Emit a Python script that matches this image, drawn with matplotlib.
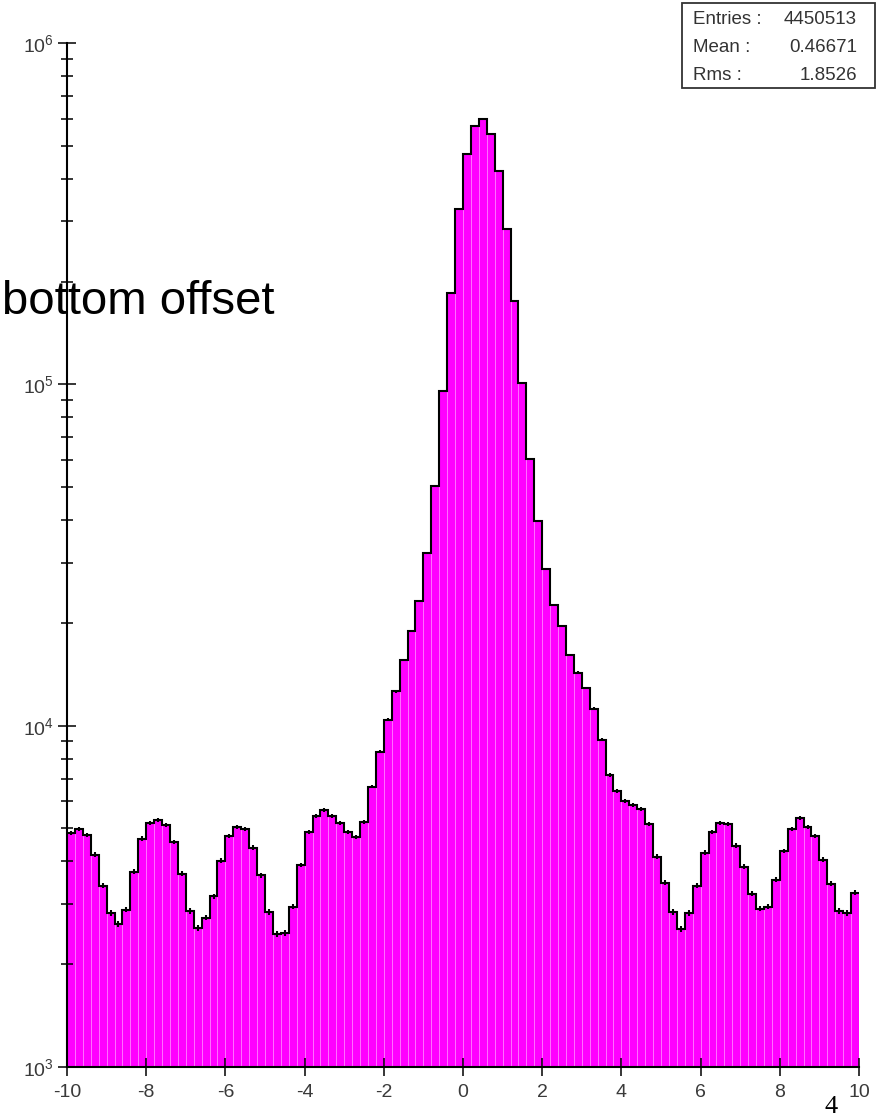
import numpy as np
import matplotlib
matplotlib.use('Agg')
import matplotlib.pyplot as plt
from matplotlib.patches import Rectangle
from matplotlib.ticker import FixedLocator, FixedFormatter, NullLocator

plt.rcParams['font.family'] = ['Liberation Sans', 'DejaVu Sans']
plt.rcParams['mathtext.fontset'] = 'custom'
plt.rcParams['mathtext.rm'] = 'Liberation Sans'
plt.rcParams['mathtext.it'] = 'Liberation Sans:italic'
plt.rcParams['axes.unicode_minus'] = False

# histogram: 100 bins between -10 and 10
x_min, x_max, n_bins = -10, 10, 100
counts = np.array([
    4860, 4990, 4790, 4190, 3400, 2830, 2630, 2890, 3730, 4670,
    5200, 5300, 5130, 4570, 3680, 2870, 2560, 2740, 3160, 4020,
    4760, 5060, 4990, 4390, 3640, 2850, 2460, 2470, 2950, 3910,
    4890, 5450, 5670, 5450, 5200, 4890, 4730, 5230, 6630, 8390,
    10400, 12600, 15600, 18900, 23200, 32100, 50500, 95800, 185700, 327000,
    474000, 573000, 597000, 543000, 423000, 286000, 175000, 101000, 60600, 39900,
    28800, 22500, 19600, 16100, 14300, 12900, 11200, 9100, 7180, 6450,
    6030, 5870, 5710, 5160, 4130, 3470, 2850, 2540, 2830, 3400,
    4250, 4890, 5200, 5160, 4450, 3860, 3220, 2910, 2950, 3540,
    4300, 4990, 5380, 5060, 4760, 4050, 3440, 2870, 2830, 3240,
])
stat_names = ['Entries :', 'Mean :', 'Rms :']
stat_values = ['4450513', '0.46671', '1.8526']
x_ticks = list(range(-10, 11, 2))
y_ticks = [1e3, 1e4, 1e5, 1e6]
y_ticklabels = [r'$\mathregular{10^{3}}$', r'$\mathregular{10^{4}}$',
                r'$\mathregular{10^{5}}$', r'$\mathregular{10^{6}}$']

edges = np.linspace(x_min, x_max, n_bins + 1)
centers = 0.5 * (edges[:-1] + edges[1:])
width = edges[1] - edges[0]

W, H = 885, 1119
fig = plt.figure(figsize=(W / 100, H / 100), dpi=100)
ax = fig.add_axes([67 / W, 52 / H, (859 - 67) / W, (1067 - 43) / H])
ax.set_yscale('log')

ax.bar(edges[:-1], counts, width=width, align='edge', color='#ff00ff',
       edgecolor='#ff7aff', linewidth=0.6, zorder=1)
ax.stairs(counts, edges, color='black', linewidth=1.5, baseline=None, zorder=3)
ax.errorbar(centers, counts, yerr=np.sqrt(counts), fmt='none', ecolor='black',
            elinewidth=1.5, capsize=0, zorder=3)

ax.set_xlim(x_min, x_max)
ax.set_ylim(1e3, 1e6)

for side in ['top', 'right']:
    ax.spines[side].set_visible(False)
for side in ['left', 'bottom']:
    ax.spines[side].set_linewidth(1.5)
    ax.spines[side].set_zorder(4)

ax.xaxis.set_major_locator(FixedLocator(x_ticks))
ax.xaxis.set_minor_locator(NullLocator())
ax.yaxis.set_major_locator(FixedLocator(y_ticks))
ax.yaxis.set_major_formatter(FixedFormatter(y_ticklabels))
ax.yaxis.set_minor_locator(FixedLocator(
    [m * 10 ** e for e in range(3, 6) for m in range(2, 10)]))
ax.yaxis.set_minor_formatter(FixedFormatter([]))

ax.tick_params(axis='both', which='major', direction='inout', length=13,
               width=1.1, color='black', labelsize=14, labelcolor='#3a3a3a')
ax.tick_params(axis='x', which='major', pad=6)
ax.tick_params(axis='y', which='major', pad=3)
ax.tick_params(axis='y', which='minor', direction='inout', length=8,
               width=1.1, color='black')

# statistics box in the upper right corner
fig.add_artist(Rectangle((682 / W, 1 - 88 / H), (875 - 682) / W, 85 / H,
                         transform=fig.transFigure, facecolor='white',
                         edgecolor='#333333', linewidth=1.3))
for i, (name, val) in enumerate(zip(stat_names, stat_values)):
    y = 1 - (20 + 28 * i) / H
    fig.text(693 / W, y, name, fontsize=13.5, color='#333333', va='center', ha='left')
    fig.text(857 / W, y, val, fontsize=13.5, color='#333333', va='center', ha='right')

fig.text(2 / W, 1 - 314 / H, 'bottom offset', fontsize=34, color='black',
         ha='left', va='baseline')
fig.text(831 / W, 1 / H, '4', fontsize=19, color='black', ha='center',
         va='bottom', family=['Liberation Serif', 'DejaVu Serif'])

fig.savefig('out.png', dpi=100)
